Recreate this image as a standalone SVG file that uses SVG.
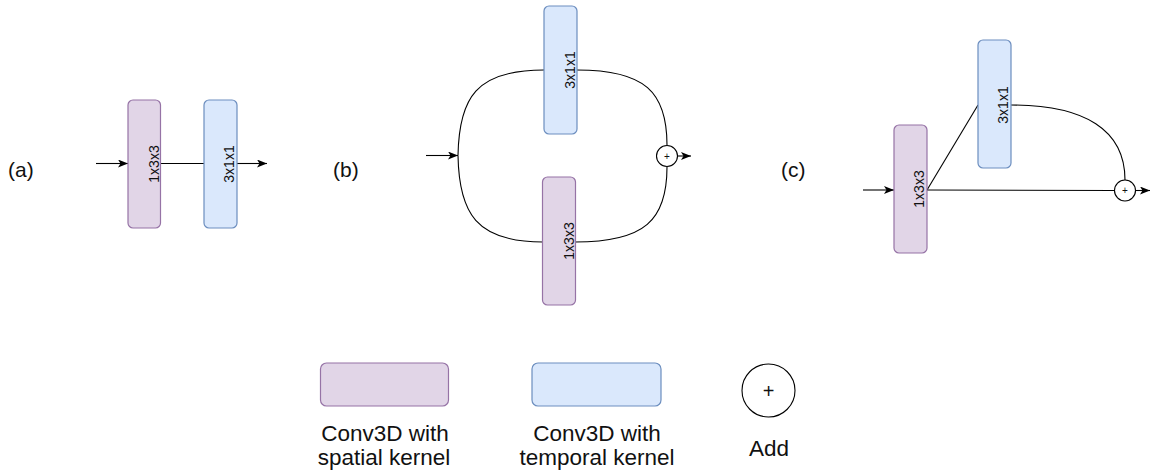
<svg xmlns="http://www.w3.org/2000/svg" width="1152" height="476" viewBox="0 0 1152 476">
<defs>
<marker id="arr" markerUnits="userSpaceOnUse" markerWidth="12" markerHeight="10" refX="10" refY="4" orient="auto">
<path d="M0,0 L10,4 L0,8 L2.5,4 Z" fill="#000"/>
</marker>
<style>
.sp{fill:#e1d5e7;stroke:#9673a6;stroke-width:1.2}
.tp{fill:#dae8fc;stroke:#6c8ebf;stroke-width:1.2}
.edge{fill:none;stroke:#000;stroke-width:1.1}
.lbl{font-family:"Liberation Sans",Arial,sans-serif;font-size:14px;fill:#111;text-anchor:middle}
.tag{font-family:"Liberation Sans",Arial,sans-serif;font-size:21px;fill:#111}
.leg{font-family:"Liberation Sans",Arial,sans-serif;font-size:22.5px;fill:#111;text-anchor:middle}
.add{fill:#fff;stroke:#000;stroke-width:1.1}
.plus{font-family:"Liberation Sans",Arial,sans-serif;font-size:10px;fill:#111;text-anchor:middle}
</style>
</defs>
<rect width="1152" height="476" fill="#fff"/>

<g id="connectors">
<!-- (a) -->
<line class="edge" x1="96" y1="163.5" x2="128" y2="163.5" marker-end="url(#arr)"/>
<line class="edge" x1="160.5" y1="163.5" x2="204" y2="163.5"/>
<line class="edge" x1="237" y1="163.5" x2="267" y2="163.5" marker-end="url(#arr)"/>
<!-- (b) -->
<line class="edge" x1="426" y1="155.5" x2="458" y2="155.5" marker-end="url(#arr)"/>
<path class="edge" d="M458,155.5 C459,98 476,70 544,70"/>
<path class="edge" d="M577,70 C645,70 667,92 667,145"/>
<path class="edge" d="M458,155.5 C459,213 476,242 543,242"/>
<path class="edge" d="M575,242 C645,242 667,220 667,167"/>
<line class="edge" x1="678" y1="156" x2="691" y2="156" marker-end="url(#arr)"/>
<!-- (c) -->
<line class="edge" x1="863" y1="190" x2="894" y2="190" marker-end="url(#arr)"/>
<line class="edge" x1="927" y1="190" x2="1114" y2="190.5"/>
<line class="edge" x1="927" y1="190" x2="978" y2="105"/>
<path class="edge" d="M1011,105 C1085,105 1125,130 1125,180"/>
<line class="edge" x1="1136" y1="190.5" x2="1150" y2="190.5" marker-end="url(#arr)"/>
</g>

<g id="label-a"><text class="tag" x="8" y="177">(a)</text></g>
<g id="label-b"><text class="tag" x="333" y="177">(b)</text></g>
<g id="label-c"><text class="tag" x="781" y="177">(c)</text></g>

<g id="a-spatial">
<rect class="sp" x="128" y="100" width="32.5" height="128" rx="5"/>
<text class="lbl" transform="translate(158.5,164) rotate(-90)">1x3x3</text>
</g>
<g id="a-temporal">
<rect class="tp" x="204" y="100" width="33" height="128" rx="5"/>
<text class="lbl" transform="translate(233.5,164) rotate(-90)">3x1x1</text>
</g>

<g id="b-temporal">
<rect class="tp" x="544" y="6" width="33" height="128" rx="5"/>
<text class="lbl" transform="translate(575,70) rotate(-90)">3x1x1</text>
</g>
<g id="b-spatial">
<rect class="sp" x="542.5" y="177" width="33" height="128" rx="5"/>
<text class="lbl" transform="translate(573.5,241) rotate(-90)">1x3x3</text>
</g>
<g id="b-add">
<circle class="add" cx="667" cy="156" r="10.5"/>
<text class="plus" x="667" y="159.5">+</text>
</g>

<g id="c-spatial">
<rect class="sp" x="894" y="125" width="33" height="128" rx="5"/>
<text class="lbl" transform="translate(924,189) rotate(-90)">1x3x3</text>
</g>
<g id="c-temporal">
<rect class="tp" x="978" y="40" width="33" height="128" rx="5"/>
<text class="lbl" transform="translate(1008,105) rotate(-90)">3x1x1</text>
</g>
<g id="c-add">
<circle class="add" cx="1125" cy="190.5" r="10.5"/>
<text class="plus" x="1125" y="194">+</text>
</g>

<g id="legend-spatial">
<rect class="sp" x="320.5" y="363" width="128" height="43" rx="6"/>
<text class="leg" x="385" y="441">Conv3D with</text>
<text class="leg" x="384" y="465">spatial kernel</text>
</g>
<g id="legend-temporal">
<rect class="tp" x="532" y="363" width="129" height="43" rx="6"/>
<text class="leg" x="597" y="441">Conv3D with</text>
<text class="leg" x="597" y="465">temporal kernel</text>
</g>
<g id="legend-add">
<circle class="add" cx="768.5" cy="390.5" r="26.5"/>
<text class="leg" x="768.5" y="398" style="font-size:20px">+</text>
<text class="leg" x="769" y="456">Add</text>
</g>
</svg>
